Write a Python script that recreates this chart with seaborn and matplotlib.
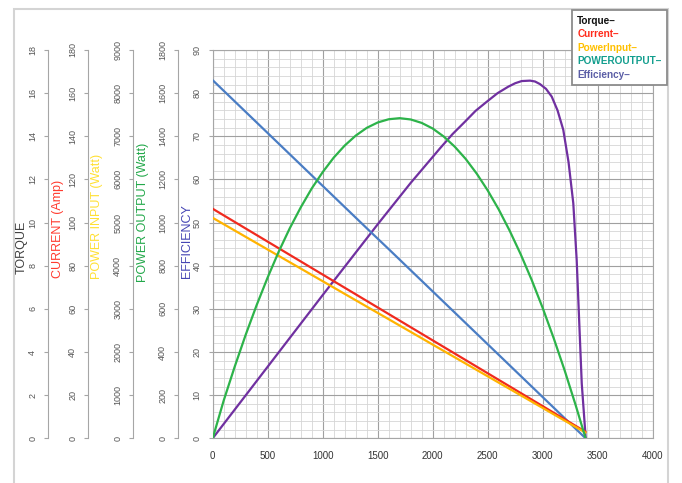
import matplotlib
matplotlib.use("Agg")
import matplotlib.pyplot as plt
import seaborn as sns
from matplotlib.lines import Line2D
from matplotlib.patches import Rectangle
from matplotlib.ticker import MultipleLocator

# ---------------- data ----------------
speed = [0, 200, 400, 600, 800, 1000, 1200, 1400, 1600, 1800, 2000, 2200,
         2400, 2600, 2800, 3000, 3200, 3390]
torque = [16.60, 15.62, 14.64, 13.66, 12.68, 11.70, 10.72, 9.74, 8.77, 7.79,
          6.81, 5.83, 4.85, 3.87, 2.89, 1.91, 0.93, 0.0]
current = [106.4, 100.3, 94.2, 88.1, 82.0, 75.9, 69.8, 63.7, 57.6, 51.5, 45.4,
           39.3, 33.2, 27.1, 21.0, 14.9, 8.8, 3.0]
power_input = [5110, 4816, 4522, 4228, 3935, 3641, 3347, 3053, 2760, 2466,
               2172, 1878, 1584, 1290, 997, 703, 409, 130]

pout_speed = [0, 100, 200, 300, 400, 500, 600, 700, 800, 900, 1000, 1100,
              1200, 1300, 1400, 1500, 1600, 1700, 1800, 1900, 2000, 2100,
              2200, 2300, 2400, 2500, 2600, 2700, 2800, 2900, 3000, 3100,
              3200, 3300, 3390]
power_output = [0, 175, 332, 480, 618, 746, 865, 973, 1070, 1158, 1234, 1301,
                1357, 1403, 1439, 1464, 1479, 1484, 1478, 1462, 1436, 1399,
                1352, 1295, 1227, 1149, 1061, 962, 853, 734, 604, 464, 314,
                153, 0]

eff_speed = [0, 500, 1000, 1500, 1800, 2066, 2180, 2294, 2390, 2491, 2590,
             2687, 2750, 2809, 2885, 2930, 2975, 3030, 3082, 3135, 3187,
             3235, 3278, 3309, 3355, 3391]
efficiency = [0, 16.6, 33.2, 49.6, 59.2, 67.2, 70.5, 73.4, 75.9, 78.0, 80.0,
              81.5, 82.3, 82.8, 82.9, 82.7, 82.1, 81.0, 79.2, 76.0, 71.5,
              64.0, 54.5, 41.3, 12.7, 0]

axis_labels = ["TORQUE", "CURRENT (Amp)", "POWER INPUT (Watt)",
               "POWER OUTPUT (Watt)", "EFFICIENCY"]
legend_labels = ["Torque\u2013", "Current\u2013", "PowerInput\u2013",
                 "POWEROUTPUT\u2013", "Efficiency\u2013"]
x_ticks = [0, 500, 1000, 1500, 2000, 2500, 3000, 3500, 4000]

# ---------------- styling ----------------
sns.set_style("white")
plt.rcParams["font.family"] = ["Liberation Sans", "DejaVu Sans"]

line_colors = {"torque": "#4a7dc4", "current": "#f02a1e", "pin": "#ffb300",
               "pout": "#2db34a", "eff": "#7030a0"}
label_colors = ["#404040", "#ff3b2f", "#ffe033", "#22a84a", "#4646b4"]
legend_colors = ["#111111", "#ff2a1a", "#ffc000", "#139e8e", "#5b5ea6"]
spine_c = "#a6a6a6"
tick_lc = "#555555"

fig = plt.figure(figsize=(6.82, 4.83), dpi=100)
W, H = 682, 483
x0, x1, y_top, y_bot = 212.7, 652.7, 50.0, 438.3
ax = fig.add_axes([x0 / W, 1 - y_bot / H, (x1 - x0) / W, (y_bot - y_top) / H])

def ax_x(px):
    return (px - x0) / (x1 - x0)

def ax_y(py):
    return (y_bot - py) / (y_bot - y_top)

# main (efficiency) axis with grid
ax.set_xlim(0, 4000)
ax.set_ylim(0, 90)
ax.xaxis.set_major_locator(MultipleLocator(500))
ax.xaxis.set_minor_locator(MultipleLocator(100))
ax.yaxis.set_major_locator(MultipleLocator(10))
ax.yaxis.set_minor_locator(MultipleLocator(2))
ax.set_xticks(x_ticks)
ax.grid(which="major", color="#a0a0a0", lw=0.8)
ax.grid(which="minor", color="#d6d6d6", lw=0.6)
for s in ax.spines.values():
    s.set_color(spine_c)
    s.set_linewidth(0.8)
ax.tick_params(axis="both", which="major", labelsize=6.5, labelcolor=tick_lc,
               color=spine_c, length=3, width=0.8)
ax.tick_params(axis="x", which="major", pad=6, labelsize=7, labelcolor="#333333")
ax.tick_params(axis="y", which="major", pad=5)
ax.tick_params(which="minor", length=0)
plt.setp(ax.get_yticklabels(), rotation=90, va="center")

sns.lineplot(x=eff_speed, y=efficiency, ax=ax, color=line_colors["eff"],
             lw=1.6, legend=False, sort=False)

ax.set_ylabel(axis_labels[4], color=label_colors[4], fontsize=9)
ax.yaxis.label.set_va("center")
ax.yaxis.set_label_coords(ax_x(187), ax_y(241))
ax.set_xlabel("")

def make_twin(spine_px, lim, step, label, lcolor, lx, ly):
    t = ax.twinx()
    t.set_ylim(0, lim)
    t.yaxis.set_major_locator(MultipleLocator(step))
    t.yaxis.set_ticks_position("left")
    t.yaxis.set_label_position("left")
    t.spines["left"].set_visible(True)
    t.spines["left"].set_position(("axes", ax_x(spine_px)))
    t.spines["left"].set_color(spine_c)
    t.spines["left"].set_linewidth(0.8)
    for s in ["right", "top", "bottom"]:
        t.spines[s].set_visible(False)
    t.tick_params(axis="y", labelsize=6.5, labelcolor=tick_lc, color=spine_c,
                  length=3, width=0.8, pad=5)
    plt.setp(t.get_yticklabels(), rotation=90, va="center")
    t.set_ylabel(label, color=lcolor, fontsize=9)
    t.yaxis.label.set_va("center")
    t.yaxis.set_label_coords(ax_x(lx), ax_y(ly))
    return t

ax_t = make_twin(48.3, 18, 2, axis_labels[0], label_colors[0], 22, 247)
ax_c = make_twin(88.3, 180, 20, axis_labels[1], label_colors[1], 58, 229)
ax_pi = make_twin(133.3, 9000, 1000, axis_labels[2], label_colors[2], 97, 216)
ax_po = make_twin(178.3, 1800, 200, axis_labels[3], label_colors[3], 143, 212)

sns.lineplot(x=pout_speed, y=power_output, ax=ax_po, color=line_colors["pout"],
             lw=1.6, legend=False)
sns.lineplot(x=speed, y=current, ax=ax_c, color=line_colors["current"],
             lw=1.6, legend=False)
sns.lineplot(x=speed, y=power_input, ax=ax_pi, color=line_colors["pin"],
             lw=1.6, legend=False)
sns.lineplot(x=speed, y=torque, ax=ax_t, color=line_colors["torque"],
             lw=1.6, legend=False)
for t in (ax_t, ax_c, ax_pi, ax_po):
    t.set_xlabel("")

# outer chart frame
fig.add_artist(Rectangle((14 / W, -0.1), (668 - 14) / W, (H - 9) / H + 0.1,
                         transform=fig.transFigure, fill=False,
                         edgecolor="#d4d4d4", lw=1.5, zorder=0))

# legend (text entries with trailing dash, as in the source)
handles = [Line2D([], [], lw=0, alpha=0) for _ in legend_colors]
leg = fig.legend(handles, legend_labels, loc="upper right",
                 bbox_to_anchor=(667 / W, 1 - 10 / H),
                 handlelength=0, handletextpad=0, frameon=True,
                 fancybox=False, edgecolor="#8c8c8c", framealpha=1,
                 prop={"size": 7.2, "weight": "bold"}, labelspacing=0.36,
                 borderpad=0.55, borderaxespad=0)
leg.get_frame().set_linewidth(1.3)
for txt, c in zip(leg.get_texts(), legend_colors):
    txt.set_color(c)

fig.savefig("out.png", dpi=100)
